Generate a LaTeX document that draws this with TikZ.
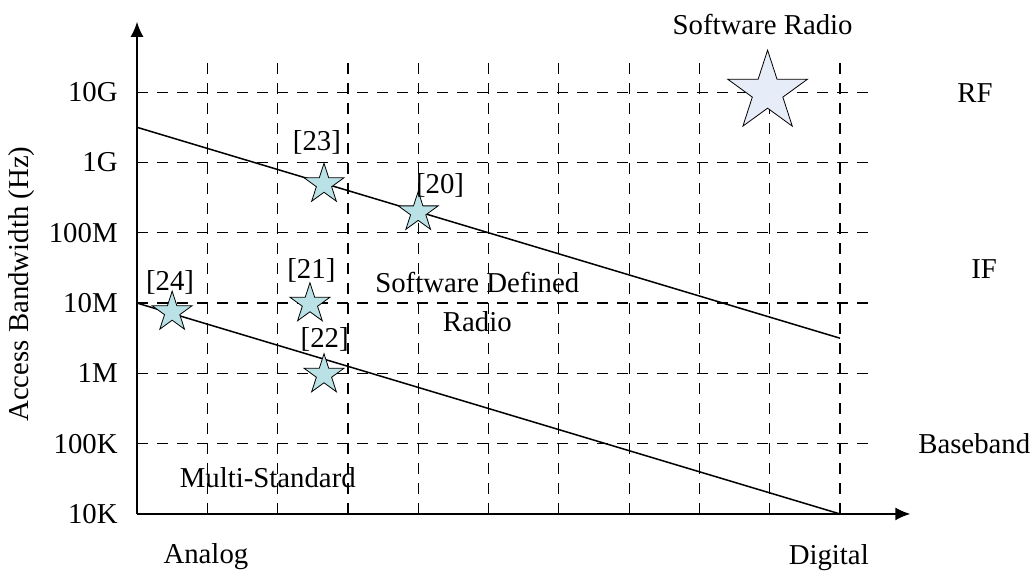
\documentclass[tikz,border=0pt]{standalone}
\usepackage{fontspec}
\setmainfont{Liberation Serif}
\usetikzlibrary{positioning}
\usetikzlibrary{shapes.geometric}
\usetikzlibrary{arrows.meta}
\definecolor{starcyan}{RGB}{186,226,230}
\definecolor{starpale}{RGB}{230,236,248}
\tikzset{
    % Filled arrow head for both axes
    >={Latex[length=7.5pt,width=6.5pt]},
%
    % The two axes
    axis line/.style={line width=0.75pt, ->},
    % The dashed background grid
    grid line/.style={line width=0.6pt, dash pattern=on 5.5pt off 4.5pt},
    % Trend lines across the plane
    trend line/.style={line width=0.75pt},
%
    % A small reference star
    ref star/.style={star, star points=5, star point ratio=2.618,
        draw, line width=0.4pt, fill=starcyan, inner sep=0,
        minimum size=21pt},
    % The big star for the ideal case
    big star/.style={ref star, fill=starpale, minimum size=42pt},
    % Labels along the vertical axis
    tick label/.style={anchor=east, inner sep=0}}

\begin{document}
\begin{tikzpicture}[x=35.15pt, y=35.15pt,
    font=\fontsize{14.4}{19.5}\selectfont]

\useasboundingbox (-1.949,-0.853) rectangle (12.774,7.311);

% grid
\foreach \i in {1,...,10}
    \draw [grid line] (\i,0) -- (\i,6.5);
\foreach \j in {1,...,6}
    \draw [grid line] (0,\j) -- (10.5,\j);

% axes
\coordinate (origin) at (0,0);
\coordinate (x end) at (11,0);
\coordinate (y end) at (0,7);
\draw [axis line] (origin) -- (x end);
\draw [axis line] (origin) -- (y end);

\foreach \lab [count=\j from 0] in {10K,100K,1M,10M,100M,1G,10G}
    \node [tick label] (tick \j) at (-0.27,\j) {\lab};

\node [rotate=90] (ylabel) at (-1.64,3.27) {Access Bandwidth (Hz)};
\node (analog) at (0.98,-0.61) {Analog};
\node (digital) at (9.84,-0.62) {Digital};

% bands on the right
\node (rf) at (11.92,5.98) {RF};
\node (if) at (12.05,3.48) {IF};
\node (baseband) at (11.91,1.0) {Baseband};

% trend lines
\coordinate (sdr start) at (0,5.5);
\coordinate (sdr end) at (10,2.5);
\coordinate (ms start) at (0,3);
\coordinate (ms end) at (10,0);
\draw [trend line] (sdr start) -- (sdr end);
\draw [trend line] (ms start) -- (ms end);

% region names
\node [align=center] (sdr) at (4.84,3.02) {Software Defined\\Radio};
\node (multi) at (1.86,0.51) {Multi-Standard};
\node (swr) at (8.90,6.96) {Software Radio};

% stars and their references
\node [ref star] (star23) at (2.66,4.69) {};
\node [ref star] (star20) at (4.0,4.29) {};
\node [ref star] (star24) at (0.5,2.87) {};
\node [ref star] (star21) at (2.46,2.99) {};
\node [ref star] (star22) at (2.66,1.98) {};
\node [big star] (star sr) at (8.97,6.0) {};

\node (ref23) at (2.56,5.28) {[23]};
\node (ref20) at (4.31,4.68) {[20]};
\node (ref24) at (0.47,3.29) {[24]};
\node (ref21) at (2.48,3.47) {[21]};
\node (ref22) at (2.67,2.48) {[22]};

\end{tikzpicture}
\end{document}
